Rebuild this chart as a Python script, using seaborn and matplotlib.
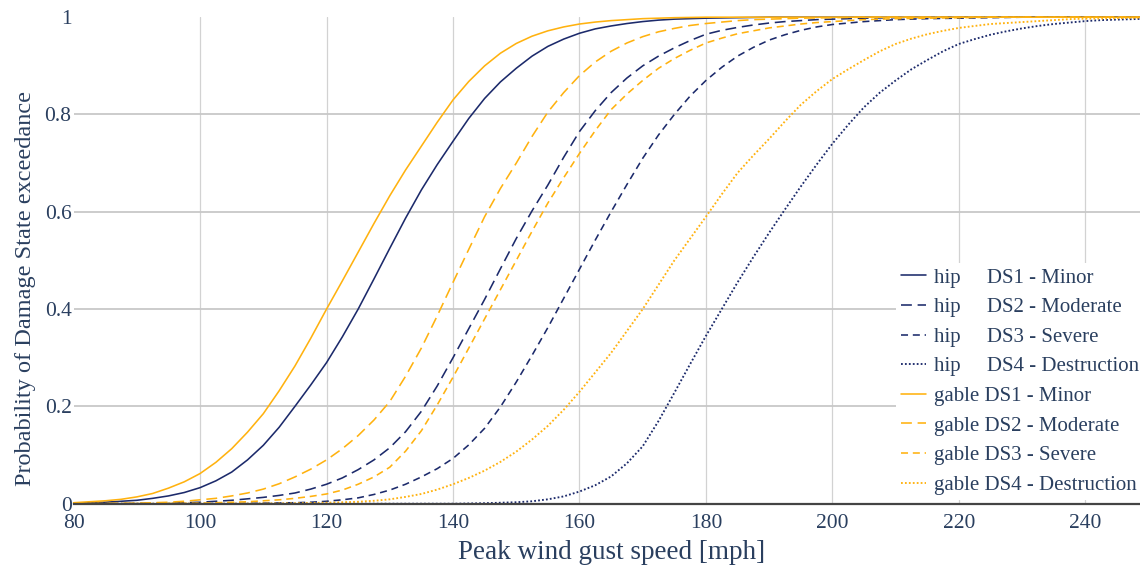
import matplotlib
matplotlib.use("Agg")
import matplotlib.pyplot as plt
from matplotlib.lines import Line2D
import seaborn as sns
import pandas as pd

# ---------------- data (every 2.5 mph) ----------------
wind_speed = [80, 82.5, 85, 87.5, 90, 92.5, 95, 97.5, 100, 102.5, 105, 107.5,
              110, 112.5, 115, 117.5, 120, 122.5, 125, 127.5, 130, 132.5, 135,
              137.5, 140, 142.5, 145, 147.5, 150, 152.5, 155, 157.5, 160, 162.5,
              165, 167.5, 170, 172.5, 175, 177.5, 180, 182.5, 185, 187.5, 190,
              192.5, 195, 197.5, 200, 202.5, 205, 207.5, 210, 212.5, 215, 217.5,
              220, 222.5, 225, 227.5, 230, 232.5, 235, 237.5, 240, 242.5, 245,
              247.5, 250]

hip_ds1 = [0.001, 0.002, 0.003, 0.005, 0.007, 0.011, 0.016, 0.023, 0.033, 0.047,
           0.065, 0.09, 0.12, 0.157, 0.20, 0.244, 0.29, 0.343, 0.40, 0.462,
           0.525, 0.587, 0.645, 0.697, 0.745, 0.792, 0.833, 0.867, 0.895, 0.92,
           0.94, 0.955, 0.967, 0.976, 0.982, 0.987, 0.991, 0.994, 0.996, 0.997,
           0.998, 0.9985, 0.999, 0.9995,
           1.0, 1.0, 1.0, 1.0, 1.0, 1.0, 1.0, 1.0, 1.0, 1.0, 1.0, 1.0, 1.0, 1.0,
           1.0, 1.0, 1.0, 1.0, 1.0, 1.0, 1.0, 1.0, 1.0, 1.0, 1.0]
hip_ds2 = [0.0, 0.0001, 0.0002, 0.0003, 0.0005, 0.0007, 0.001, 0.002, 0.003,
           0.005, 0.007, 0.01, 0.013, 0.017, 0.022, 0.03, 0.04, 0.053, 0.07,
           0.09, 0.115, 0.148, 0.19, 0.242, 0.30, 0.36, 0.42, 0.483, 0.545,
           0.602, 0.655, 0.712, 0.765, 0.808, 0.845, 0.875, 0.90, 0.92, 0.937,
           0.952, 0.965, 0.973, 0.979, 0.984, 0.988, 0.991, 0.993, 0.995, 0.996,
           0.997, 0.998, 0.9985, 0.999, 0.9993, 0.9995, 0.9998,
           1.0, 1.0, 1.0, 1.0, 1.0, 1.0, 1.0, 1.0, 1.0, 1.0, 1.0, 1.0, 1.0]
hip_ds3 = [0.0, 0.0, 0.0, 0.0, 0.0, 0.0, 0.0, 0.0, 0.0, 0.0002, 0.0005, 0.0007,
           0.001, 0.0015, 0.002, 0.003, 0.005, 0.008, 0.012, 0.019, 0.028, 0.04,
           0.055, 0.072, 0.093, 0.121, 0.155, 0.199, 0.25, 0.305, 0.362, 0.422,
           0.482, 0.542, 0.60, 0.656, 0.71, 0.758, 0.80, 0.838, 0.87, 0.897,
           0.92, 0.938, 0.953, 0.964, 0.973, 0.98, 0.985, 0.988, 0.991, 0.993,
           0.995, 0.996, 0.997, 0.9975, 0.998, 0.9985, 0.999, 0.9995,
           1.0, 1.0, 1.0, 1.0, 1.0, 1.0, 1.0, 1.0, 1.0]
hip_ds4 = [0.0, 0.0, 0.0, 0.0, 0.0, 0.0, 0.0, 0.0, 0.0, 0.0, 0.0, 0.0, 0.0, 0.0,
           0.0, 0.0, 0.0, 0.0, 0.0, 0.0, 0.0, 0.0, 0.0, 0.0, 0.0,
           0.0005, 0.001, 0.002, 0.003, 0.005, 0.009, 0.015, 0.025, 0.038,
           0.056, 0.083, 0.118, 0.17, 0.228, 0.287, 0.345, 0.40, 0.455, 0.507,
           0.557, 0.605, 0.652, 0.697, 0.74, 0.779, 0.815, 0.845, 0.87, 0.893,
           0.912, 0.93, 0.945, 0.955, 0.964, 0.971, 0.977, 0.982, 0.986, 0.989,
           0.992, 0.994, 0.995, 0.996, 0.997]

gable_ds1 = [0.002, 0.004, 0.006, 0.009, 0.014, 0.021, 0.032, 0.045, 0.062,
             0.085, 0.113, 0.147, 0.185, 0.232, 0.283, 0.34, 0.40, 0.458, 0.517,
             0.576, 0.633, 0.686, 0.735, 0.784, 0.83, 0.868, 0.90, 0.926, 0.946,
             0.961, 0.972, 0.98, 0.986, 0.99, 0.993, 0.995, 0.997, 0.998, 0.999,
             0.9995,
             1.0, 1.0, 1.0, 1.0, 1.0, 1.0, 1.0, 1.0, 1.0, 1.0, 1.0, 1.0, 1.0,
             1.0, 1.0, 1.0, 1.0, 1.0, 1.0, 1.0, 1.0, 1.0, 1.0, 1.0, 1.0, 1.0,
             1.0, 1.0, 1.0]
gable_ds2 = [0.0, 0.0002, 0.0005, 0.0008, 0.001, 0.002, 0.003, 0.005, 0.008,
             0.011, 0.016, 0.022, 0.03, 0.041, 0.055, 0.071, 0.09, 0.113, 0.14,
             0.172, 0.21, 0.262, 0.32, 0.386, 0.455, 0.523, 0.59, 0.648, 0.70,
             0.755, 0.805, 0.845, 0.88, 0.908, 0.93, 0.947, 0.96, 0.97, 0.977,
             0.983, 0.987, 0.99, 0.993, 0.995, 0.996, 0.997, 0.998, 0.9985,
             0.999, 0.9995,
             1.0, 1.0, 1.0, 1.0, 1.0, 1.0, 1.0, 1.0, 1.0, 1.0, 1.0, 1.0, 1.0,
             1.0, 1.0, 1.0, 1.0, 1.0, 1.0]
gable_ds3 = [0.0, 0.0, 0.0, 0.0001, 0.0002, 0.0003, 0.0005, 0.0007, 0.001,
             0.002, 0.003, 0.004, 0.006, 0.008, 0.011, 0.015, 0.02, 0.028, 0.04,
             0.055, 0.075, 0.108, 0.15, 0.203, 0.26, 0.32, 0.38, 0.44, 0.50,
             0.56, 0.618, 0.67, 0.72, 0.767, 0.81, 0.842, 0.87, 0.895, 0.915,
             0.932, 0.947, 0.957, 0.966, 0.972, 0.978, 0.982, 0.986, 0.989,
             0.991, 0.993, 0.995, 0.996, 0.997, 0.9975, 0.998, 0.9985, 0.999,
             0.9995,
             1.0, 1.0, 1.0, 1.0, 1.0, 1.0, 1.0, 1.0, 1.0, 1.0, 1.0]
gable_ds4 = [0.0, 0.0, 0.0, 0.0, 0.0, 0.0, 0.0, 0.0, 0.0, 0.0, 0.0,
             0.0002, 0.0005, 0.0007, 0.001, 0.0015, 0.002, 0.003, 0.004, 0.006,
             0.009, 0.014, 0.02, 0.029, 0.04, 0.053, 0.068, 0.086, 0.107, 0.132,
             0.16, 0.193, 0.23, 0.27, 0.31, 0.355, 0.40, 0.45, 0.50, 0.545, 0.59,
             0.636, 0.68, 0.716, 0.75, 0.786, 0.82, 0.848, 0.873, 0.893, 0.912,
             0.93, 0.945, 0.956, 0.965, 0.972, 0.978, 0.982, 0.986, 0.988, 0.99,
             0.992, 0.994, 0.996, 0.997, 0.9975, 0.998, 0.9985, 0.999]

series_labels = ["hip     DS1 - Minor", "hip     DS2 - Moderate",
                 "hip     DS3 - Severe", "hip     DS4 - Destruction",
                 "gable DS1 - Minor", "gable DS2 - Moderate",
                 "gable DS3 - Severe", "gable DS4 - Destruction"]
series_values = [hip_ds1, hip_ds2, hip_ds3, hip_ds4,
                 gable_ds1, gable_ds2, gable_ds3, gable_ds4]

x_ticks = [80, 100, 120, 140, 160, 180, 200, 220, 240]
y_ticks = [0, 0.2, 0.4, 0.6, 0.8, 1]
y_tick_labels = ["0", "0.2", "0.4", "0.6", "0.8", "1"]

# ---------------- style ----------------
NAVY = "#1c2a6b"
AMBER = "#ffb20f"
TXT = "#2a3f5f"
colors = [NAVY] * 4 + [AMBER] * 4
widths = [1.15, 1.15, 1.15, 1.35] * 2
styles = ["-", (0, (6.8, 3.6)), (0, (4.4, 3.0)), (0, (0.95, 1.15))] * 2

sns.set_theme(style="white")
plt.rcParams["font.family"] = ["Liberation Serif", "DejaVu Serif"]

fig = plt.figure(figsize=(11.4, 5.75), dpi=100)
ax = fig.add_axes([73.6 / 1140, (575 - 503.7) / 575, 1075 / 1140, 486.5 / 575])

for vals, lab, col, ls, lw in zip(series_values, series_labels, colors, styles, widths):
    df = pd.DataFrame({"speed": wind_speed, "p": vals})
    sns.lineplot(data=df, x="speed", y="p", ax=ax, color=col, linewidth=lw,
                 linestyle=ls, legend=False, clip_on=False, zorder=3)

ax.set_xlim(80, 250)
ax.set_ylim(0, 1)
ax.set_xticks(x_ticks)
ax.set_xticklabels([str(t) for t in x_ticks])
ax.set_yticks(y_ticks)
ax.set_yticklabels(y_tick_labels)

ax.tick_params(axis="both", length=0, labelsize=15.5, labelcolor=TXT)
ax.tick_params(axis="x", pad=7.5)
ax.tick_params(axis="y", pad=1.5)

for s in ["top", "right", "left"]:
    ax.spines[s].set_visible(False)
ax.spines["bottom"].set_color("#444444")
ax.spines["bottom"].set_linewidth(1.6)
ax.spines["bottom"].set_zorder(4)

ax.xaxis.grid(True, color="#d2d2d2", linewidth=0.9)
ax.yaxis.grid(True, color="#c8c8c8", linewidth=1.3)
ax.set_axisbelow(True)
ax.xaxis.get_gridlines()[0].set_visible(False)
ax.yaxis.get_gridlines()[0].set_visible(False)
ax.yaxis.get_gridlines()[-1].set_visible(False)

ax.set_xlabel("Peak wind gust speed [mph]", fontsize=19.5, color=TXT, labelpad=5)
ax.set_ylabel("Probability of Damage State exceedance", fontsize=17.5, color=TXT)
ax.yaxis.set_label_coords((36 - 73.6) / 1075, (503.7 - 288) / 486.5)

handles = [Line2D([0], [0], color=c, linewidth=lw, linestyle=ls)
           for c, ls, lw in zip(colors, styles, widths)]
leg = ax.legend(handles, series_labels, loc="lower right",
                bbox_to_anchor=(1.0035, (575 - 500) / 575),
                bbox_transform=fig.transFigure, fontsize=15, frameon=True,
                facecolor="white", edgecolor="none", framealpha=1,
                fancybox=False, borderpad=0.25, handlelength=1.2,
                handletextpad=0.35, labelspacing=0.48, borderaxespad=0)
for t in leg.get_texts():
    t.set_color(TXT)
leg.set_zorder(5)

fig.savefig("out.png", dpi=100, facecolor="white")
